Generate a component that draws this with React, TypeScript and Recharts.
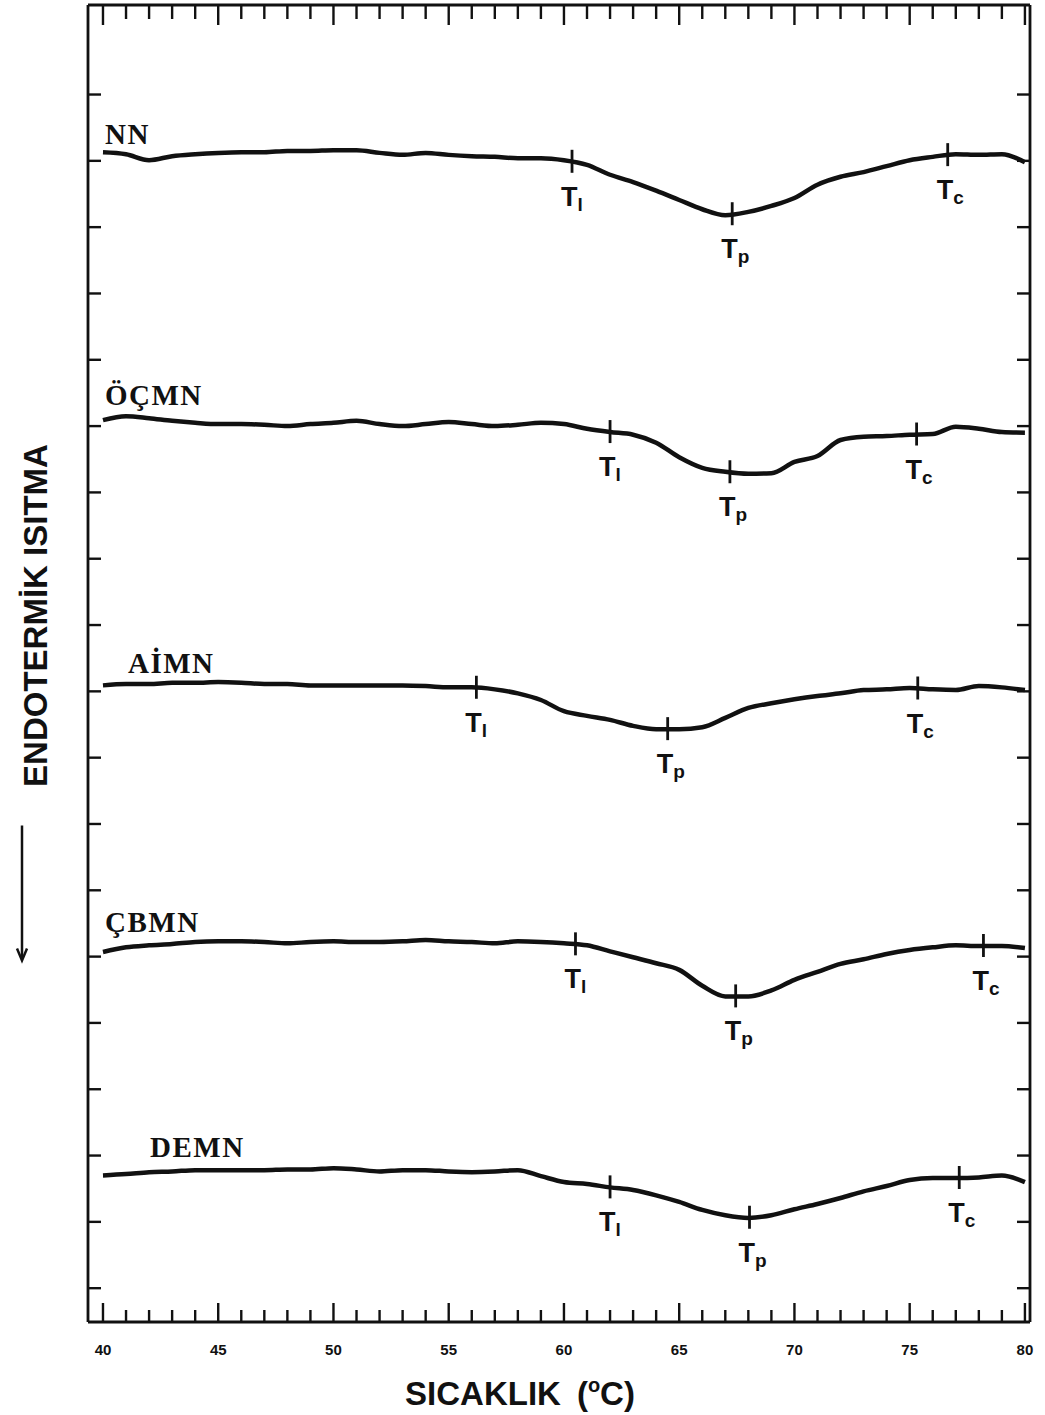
// App.tsx - DSC termogramları (NN, ÖÇMN, AİMN, ÇBMN, DEMN)
import React from 'react';
import { ComposedChart, Line, Scatter, XAxis, YAxis } from 'recharts';

// sıcaklık ızgarası (°C)
const temps = [
  40, 41, 42, 43, 44, 45, 46, 47, 48, 49, 50, 51, 52, 53, 54, 55, 56, 57, 58, 59, 60,
  61, 62, 63, 64, 65, 66, 67, 68, 69, 70, 71, 72, 73, 74, 75, 76, 77, 78, 79, 80,
];

// ısı akışı (keyfi birim)
const nnValues = [
  171.3, 171.0, 170.1, 170.7, 171.0, 171.2, 171.3, 171.3, 171.5, 171.5, 171.6,
  171.6, 171.2, 170.9, 171.2, 170.9, 170.7, 170.6, 170.4, 170.4, 170.1,
  169.4, 167.9, 166.8, 165.5, 164.1, 162.7, 161.8, 162.3, 163.2, 164.4,
  166.4, 167.6, 168.3, 169.2, 170.1, 170.6, 171.0, 170.9, 171.0, 169.8,
];
const ocmnValues = [
  130.9, 131.5, 131.2, 130.8, 130.5, 130.3, 130.3, 130.2, 130.0, 130.3, 130.5,
  130.8, 130.3, 130.0, 130.3, 130.6, 130.3, 130.0, 130.2, 130.5, 130.3,
  129.6, 129.1, 128.7, 127.5, 125.3, 123.7, 123.1, 122.8, 122.9, 124.6,
  125.5, 127.9, 128.4, 128.5, 128.7, 128.8, 129.9, 129.6, 129.1, 129.0,
];
const aimnValues = [
  90.9, 91.1, 91.1, 91.3, 91.3, 91.4, 91.3, 91.1, 91.1, 90.9, 90.9,
  90.9, 90.9, 90.9, 90.8, 90.6, 90.6, 90.3, 89.7, 88.7, 87.0,
  86.3, 85.7, 84.8, 84.3, 84.3, 84.6, 86.0, 87.5, 88.2, 88.8,
  89.3, 89.7, 90.2, 90.3, 90.5, 90.3, 90.2, 90.8, 90.6, 90.2,
];
const cbmnValues = [
  50.7, 51.4, 51.7, 51.9, 52.2, 52.3, 52.3, 52.2, 52.0, 52.2, 52.3,
  52.2, 52.2, 52.3, 52.5, 52.3, 52.2, 52.0, 52.3, 52.2, 52.0,
  51.7, 50.8, 49.9, 49.0, 48.0, 45.6, 44.0, 44.0, 44.9, 46.5,
  47.7, 48.9, 49.6, 50.4, 51.0, 51.4, 51.7, 51.6, 51.6, 51.3,
];
const demnValues = [
  17.0, 17.2, 17.5, 17.6, 17.8, 17.8, 17.8, 17.8, 17.9, 17.9, 18.1,
  17.9, 17.6, 17.8, 17.8, 17.6, 17.5, 17.6, 17.8, 16.9, 16.0,
  15.7, 15.2, 14.8, 14.0, 13.0, 11.8, 11.0, 10.6, 11.0, 11.9,
  12.7, 13.6, 14.6, 15.4, 16.3, 16.6, 16.6, 16.7, 17.0, 16.0,
];

// Tl, Tp, Tc sıcaklıkları
const markerSubs = ['l', 'p', 'c'];
const nnMarks = [60.35, 67.3, 76.65];
const ocmnMarks = [62.0, 67.2, 75.3];
const aimnMarks = [56.2, 64.5, 75.35];
const cbmnMarks = [60.5, 67.45, 78.2];
const demnMarks = [62.0, 68.05, 77.15];

const xLabelTicks = [40, 45, 50, 55, 60, 65, 70, 75, 80];
const yTicks = [0, 10, 20, 30, 40, 50, 60, 70, 80, 90, 100, 110, 120, 130, 140, 150, 160, 170, 180];

const curves = [
  { key: 'nn', name: 'NN', values: nnValues, marks: nnMarks, dx: 2, dy: -8 },
  { key: 'ocmn', name: 'ÖÇMN', values: ocmnValues, marks: ocmnMarks, dx: 2, dy: -15 },
  { key: 'aimn', name: 'AİMN', values: aimnValues, marks: aimnMarks, dx: 25, dy: -12 },
  { key: 'cbmn', name: 'ÇBMN', values: cbmnValues, marks: cbmnMarks, dx: 2, dy: -20 },
  { key: 'demn', name: 'DEMN', values: demnValues, marks: demnMarks, dx: 47, dy: -18 },
];

const INK = '#111';

const rows = temps.map((t, i) => {
  const r: Record<string, number> = { t };
  curves.forEach((c) => { r[c.key] = c.values[i]; });
  return r;
});

// işaretin eğri üzerindeki değeri
const valueAt = (vals: number[], t: number) => {
  for (let i = 0; i < temps.length - 1; i++) {
    if (t >= temps[i] && t <= temps[i + 1]) {
      const f = (t - temps[i]) / (temps[i + 1] - temps[i]);
      return vals[i] + f * (vals[i + 1] - vals[i]);
    }
  }
  return vals[vals.length - 1];
};

const markerRows = curves.flatMap((c) =>
  c.marks.map((t, i) => ({ t, v: valueAt(c.values, t), sub: markerSubs[i] }))
);
const nameRows = curves.map((c) => ({ t: temps[0], v: c.values[0], name: c.name, dx: c.dx, dy: c.dy }));

const BottomTick = (props: any) => {
  const { x, y, payload } = props;
  const major = xLabelTicks.includes(payload.value);
  return (
    <g>
      <line x1={x} x2={x} y1={y} y2={y - (major ? 19 : 12)} stroke={INK} strokeWidth={2.4} />
      {major && (
        <text x={x} y={y + 33} textAnchor="middle" fontFamily="Liberation Sans" fontWeight="bold" fontSize={15} fill={INK}>
          {payload.value}
        </text>
      )}
    </g>
  );
};

const TopTick = (props: any) => {
  const { x, y, payload } = props;
  const major = xLabelTicks.includes(payload.value);
  return <line x1={x} x2={x} y1={y} y2={y + (major ? 20 : 14)} stroke={INK} strokeWidth={2.4} />;
};

const LeftTick = (props: any) => {
  const { x, y } = props;
  return <line x1={x} x2={x + 13} y1={y} y2={y} stroke={INK} strokeWidth={2.4} />;
};

const RightTick = (props: any) => {
  const { x, y } = props;
  return <line x1={x} x2={x - 13} y1={y} y2={y} stroke={INK} strokeWidth={2.4} />;
};

const MarkerShape = (props: any) => {
  const { cx, cy, payload } = props;
  return (
    <g>
      <line x1={cx} x2={cx} y1={cy - 12} y2={cy + 11} stroke={INK} strokeWidth={2.8} />
      <text x={cx - 11} y={cy + 44} fontFamily="Liberation Sans" fontWeight="bold" fontSize={27} fill={INK}>
        T
        <tspan fontSize={19} dy={5}>{payload.sub}</tspan>
      </text>
    </g>
  );
};

const NameShape = (props: any) => {
  const { cx, cy, payload } = props;
  return (
    <text
      x={cx + payload.dx}
      y={cy + payload.dy}
      fontFamily="Liberation Serif"
      fontWeight="bold"
      fontSize={29}
      letterSpacing={1.5}
      fill={INK}
    >
      {payload.name}
    </text>
  );
};

const XTitle = (props: any) => {
  const { viewBox } = props;
  const x = viewBox.x + viewBox.width / 2 - 39;
  const y = viewBox.y + 83;
  return (
    <text x={x} y={y} textAnchor="middle" fontFamily="Liberation Sans" fontWeight="bold" fontSize={33} fill={INK}>
      SICAKLIK
      <tspan dx={16}>(</tspan>
      <tspan fontSize={20} dy={-13}>o</tspan>
      <tspan dy={13}>C)</tspan>
    </text>
  );
};

const YTitle = (props: any) => {
  const { viewBox } = props;
  const edge = viewBox.x + viewBox.width;
  const x = edge - 53;
  const cy = viewBox.y + viewBox.height / 2 - 48;
  const ax = edge - 66;
  return (
    <g>
      <text
        x={x}
        y={cy}
        transform={`rotate(-90, ${x}, ${cy})`}
        textAnchor="middle"
        dominantBaseline="central"
        fontFamily="Liberation Sans"
        fontWeight="bold"
        fontSize={33}
        fill={INK}
      >
        ENDOTERMİK ISITMA
      </text>
      <line x1={ax} x2={ax} y1={cy + 210} y2={cy + 343} stroke={INK} strokeWidth={2.5} />
      <path d={`M ${ax - 5} ${cy + 333} L ${ax} ${cy + 345} L ${ax + 5} ${cy + 333}`} fill="none" stroke={INK} strokeWidth={2.5} />
    </g>
  );
};

const xDomain = [39.35, 80.22];
const yDomain = [-5.1, 193.5];
const frame = { stroke: INK, strokeWidth: 2.8 };

export default function App() {
  return (
    <div style={{ position: 'absolute', left: 0, top: 0, width: 1045, height: 1415, background: '#fff' }}>
      <ComposedChart width={1045} height={1415} data={rows} margin={{ top: 4, right: 14, bottom: 92, left: 87 }}>
        <XAxis
          xAxisId="bottom"
          dataKey="t"
          type="number"
          domain={xDomain}
          allowDataOverflow
          ticks={temps}
          interval={0}
          height={1}
          tickSize={0}
          tickMargin={0}
          tickLine={false}
          axisLine={frame}
          tick={BottomTick}
          label={XTitle}
        />
        <XAxis
          xAxisId="top"
          orientation="top"
          dataKey="t"
          type="number"
          domain={xDomain}
          allowDataOverflow
          ticks={temps}
          interval={0}
          height={1}
          tickSize={0}
          tickMargin={0}
          tickLine={false}
          axisLine={frame}
          tick={TopTick}
        />
        <YAxis
          yAxisId="left"
          type="number"
          domain={yDomain}
          allowDataOverflow
          ticks={yTicks}
          interval={0}
          width={1}
          tickSize={0}
          tickMargin={0}
          tickLine={false}
          axisLine={frame}
          tick={LeftTick}
          label={YTitle}
        />
        <YAxis
          yAxisId="right"
          orientation="right"
          type="number"
          domain={yDomain}
          allowDataOverflow
          ticks={yTicks}
          interval={0}
          width={1}
          tickSize={0}
          tickMargin={0}
          tickLine={false}
          axisLine={frame}
          tick={RightTick}
        />
        {curves.map((c) => (
          <Line
            key={c.key}
            xAxisId="bottom"
            yAxisId="left"
            dataKey={c.key}
            type="monotone"
            stroke={INK}
            strokeWidth={4.5}
            dot={false}
            activeDot={false}
            isAnimationActive={false}
          />
        ))}
        <Scatter
          xAxisId="bottom"
          yAxisId="left"
          data={markerRows}
          dataKey="v"
          shape={MarkerShape}
          isAnimationActive={false}
        />
        <Scatter
          xAxisId="bottom"
          yAxisId="left"
          data={nameRows}
          dataKey="v"
          shape={NameShape}
          isAnimationActive={false}
        />
      </ComposedChart>
    </div>
  );
}
